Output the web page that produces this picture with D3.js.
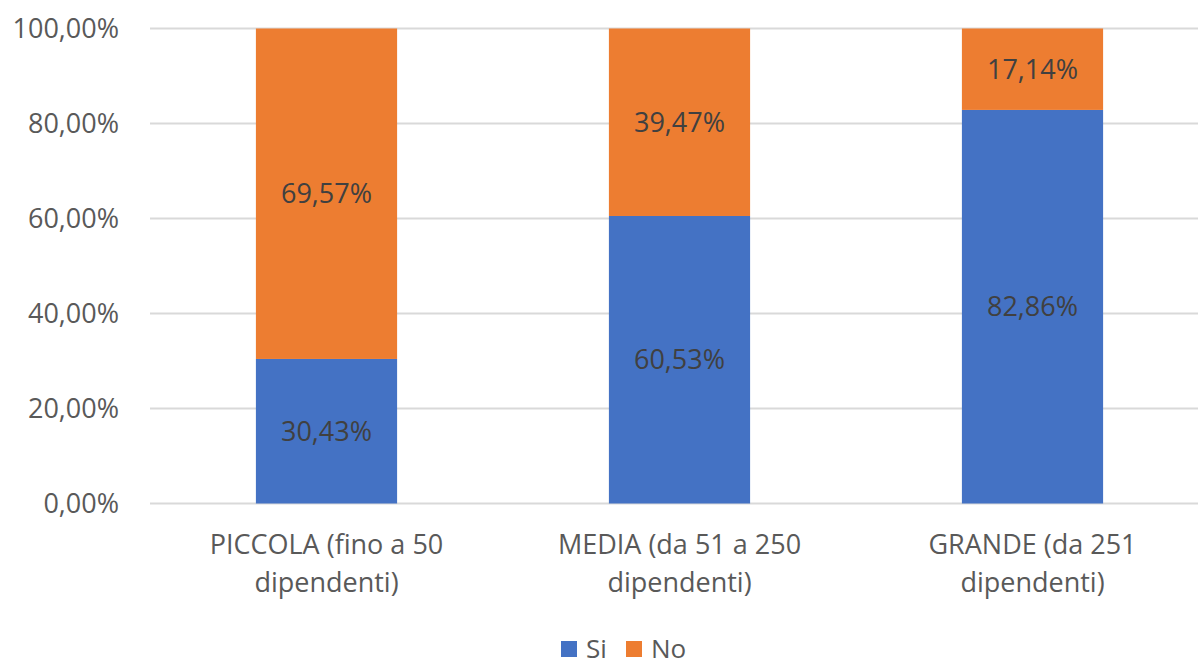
<!doctype html>
<html>
  <head>
    <meta charset="utf-8">
    <script src="https://cdn.jsdelivr.net/npm/d3@7"></script>
    <style>
      body { margin: 0; background: #ffffff; }
      svg text { font-family: "Open Sans", sans-serif; }
    </style>
  </head>
  <body>
    <svg></svg>
    <script>
      // dati del grafico
      var categories = [
        ["PICCOLA (fino a 50", "dipendenti)"],
        ["MEDIA (da 51 a 250", "dipendenti)"],
        ["GRANDE (da 251", "dipendenti)"]
      ];
      var seriesNames = ["Si", "No"];
      var siValues = [30.43, 60.53, 82.86];
      var noValues = [69.57, 39.47, 17.14];
      var yTicks = [0, 20, 40, 60, 80, 100];
      var colors = ["#4472c4", "#ed7d31"];

      var width = 1199, height = 666;
      var plotLeft = 150, plotTop = 28.5, plotBottom = 503.5;

      var svg = d3.select("svg").attr("width", width).attr("height", height);

      var fmt = function(v) { return v.toFixed(2).replace(".", ",") + "%"; };

      var x = d3.scaleBand()
        .domain(d3.range(categories.length))
        .range([plotLeft, 1209])
        .paddingInner(0.6)
        .paddingOuter(0.3);
      var y = d3.scaleLinear().domain([0, 100]).range([plotBottom, plotTop]);

      // griglia
      svg.append("g").selectAll("line").data(yTicks).enter().append("line")
        .attr("x1", plotLeft).attr("x2", 1198)
        .attr("y1", d => y(d)).attr("y2", d => y(d))
        .style("stroke", "#d9d9d9").style("stroke-width", 2);

      // etichette asse y
      svg.append("g").selectAll("text").data(yTicks).enter().append("text")
        .attr("x", 119).attr("y", d => y(d))
        .attr("dy", "0.36em")
        .attr("text-anchor", "end")
        .style("font-size", "27px").style("fill", "#595959")
        .text(d => fmt(d));

      // serie impilate
      var rows = categories.map((c, i) => ({ i: i, Si: siValues[i], No: noValues[i] }));
      var stack = d3.stack().keys(seriesNames)(rows);

      var layer = svg.append("g").selectAll("g").data(stack).enter().append("g")
        .style("fill", (d, k) => colors[k]);
      layer.selectAll("rect").data(d => d).enter().append("rect")
        .attr("x", d => x(d.data.i))
        .attr("width", x.bandwidth())
        .attr("y", d => y(d[1]))
        .attr("height", d => y(d[0]) - y(d[1]));

      // etichette dati
      layer.selectAll("text").data(d => d).enter().append("text")
        .attr("x", d => x(d.data.i) + x.bandwidth() / 2)
        .attr("y", d => (y(d[0]) + y(d[1])) / 2)
        .attr("dy", "0.36em")
        .attr("text-anchor", "middle")
        .style("font-size", "27px").style("fill", "#404040")
        .text(d => fmt(d[1] - d[0]));

      // etichette categorie
      var cat = svg.append("g").selectAll("text").data(categories).enter().append("text")
        .attr("x", (d, i) => x(i) + x.bandwidth() / 2)
        .attr("y", 544)
        .attr("text-anchor", "middle")
        .style("font-size", "27px").style("fill", "#595959");
      cat.selectAll("tspan").data(d => d).enter().append("tspan")
        .attr("x", function() { return this.parentNode.getAttribute("x"); })
        .attr("dy", (d, j) => j === 0 ? "0.36em" : 38)
        .text(d => d);

      // legenda
      var legendX = [561, 626];
      var leg = svg.append("g").selectAll("g").data(seriesNames).enter().append("g")
        .attr("transform", (d, i) => "translate(" + legendX[i] + ",641)");
      leg.append("rect").attr("width", 16).attr("height", 16)
        .style("fill", (d, i) => colors[i]);
      leg.append("text").attr("x", 25).attr("y", 8).attr("dy", "0.36em")
        .style("font-size", "26px").style("fill", "#595959")
        .text(d => d);
    </script>
  </body>
</html>
